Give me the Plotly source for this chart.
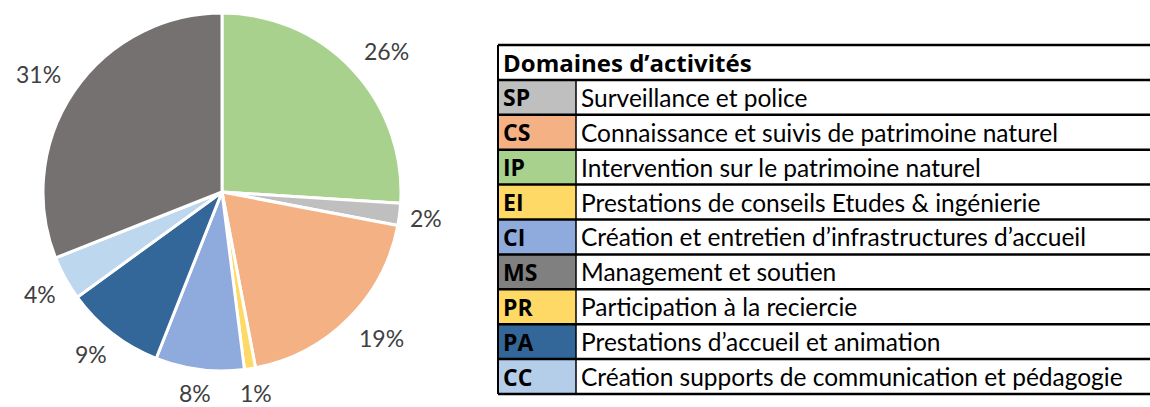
import math
import plotly.graph_objects as go

# ---- data ----
pie_codes = ["IP", "SP", "CS", "PR", "CI", "PA", "CC", "MS"]
pie_values = [26, 2, 19, 1, 8, 9, 4, 31]
pie_colors = ["#A9D18E", "#BFBFBF", "#F4B183", "#FFD966", "#8FAADC", "#336699", "#BDD7EE", "#767171"]

table_title = "Domaines d’activités"
table_codes = ["SP", "CS", "IP", "EI", "CI", "MS", "PR", "PA", "CC"]
table_labels = [
    "Surveillance et police",
    "Connaissance et suivis de patrimoine naturel",
    "Intervention sur le patrimoine naturel",
    "Prestations de conseils Etudes & ingénierie",
    "Création et entretien d’infrastructures d’accueil",
    "Management et soutien",
    "Participation à la reciercie",
    "Prestations d’accueil et animation",
    "Création supports de communication et pédagogie",
]
table_colors = ["#BFBFBF", "#F4B183", "#A9D18E", "#FFD966", "#8FAADC", "#808080", "#FFD966", "#336699", "#B4CDE8"]

W, H = 1150, 407
FONT = "Lato"
BOLD_FONT = "Open Sans"

# pie geometry in pixels
cx, cy, R = 222, 192, 179
dom_x = [(cx - R) / W, (cx + R) / W]
dom_y = [(H - cy - R) / H, (H - cy + R) / H]

fig = go.Figure()
fig.add_trace(go.Pie(
    labels=pie_codes, values=pie_values, sort=False, direction="clockwise", rotation=0,
    marker=dict(colors=pie_colors, line=dict(color="white", width=3)),
    textinfo="none", hoverinfo="label+percent", showlegend=False,
    domain=dict(x=dom_x, y=dom_y),
))

annotations = []
shapes = []
total = sum(pie_values)
cum = 0
r1, hh = 195, 8
for v in pie_values:
    mid = (cum + v / 2) / total * 2 * math.pi
    cum += v
    txt = f"{round(v / total * 100)}%"
    hw = 11 * len(txt) - 11
    ux, uy = math.sin(mid), -math.cos(mid)
    ox = hw * max(-1, min(1, 2 * ux))
    oy = hh * max(-1, min(1, 2 * uy))
    px = cx + r1 * ux + ox
    py = cy + r1 * uy + oy
    annotations.append(dict(
        x=px / W, y=(H - py) / H, xref="paper", yref="paper",
        text=txt, showarrow=False,
        xanchor="center", yanchor="middle",
        font=dict(family=FONT, size=23, color="#404040"),
    ))

# table
tx0, tdiv, tx1 = 498, 576, 1150
ty0, rowh = 45, 34.9
nrows = len(table_codes) + 1

def yp(y):
    return (H - y) / H

# code cell fills
for i, col in enumerate(table_colors):
    y_top = ty0 + rowh * (i + 1)
    shapes.append(dict(type="rect", xref="paper", yref="paper",
                       x0=tx0 / W, x1=tdiv / W, y0=yp(y_top + rowh), y1=yp(y_top),
                       fillcolor=col, line=dict(width=0), layer="below"))
# horizontal lines
for i in range(nrows + 1):
    y = ty0 + rowh * i
    shapes.append(dict(type="line", xref="paper", yref="paper",
                       x0=tx0 / W, x1=tx1 / W, y0=yp(y), y1=yp(y),
                       line=dict(color="black", width=2.5)))
# vertical lines
shapes.append(dict(type="line", xref="paper", yref="paper",
                   x0=tx0 / W, x1=tx0 / W, y0=yp(ty0), y1=yp(ty0 + rowh * nrows),
                   line=dict(color="black", width=2)))
shapes.append(dict(type="line", xref="paper", yref="paper",
                   x0=tdiv / W, x1=tdiv / W, y0=yp(ty0 + rowh), y1=yp(ty0 + rowh * nrows),
                   line=dict(color="black", width=1.5)))

annotations.append(dict(x=501 / W, y=yp(ty0 + rowh / 2), xref="paper", yref="paper",
                        text=f"<b>{table_title}</b>", showarrow=False, xanchor="left", yanchor="middle",
                        font=dict(family=BOLD_FONT, size=24, color="black")))
for i, (c, lab) in enumerate(zip(table_codes, table_labels)):
    yc = ty0 + rowh * (i + 1.5)
    annotations.append(dict(x=501 / W, y=yp(yc), xref="paper", yref="paper",
                            text=f"<b>{c}</b>", showarrow=False, xanchor="left", yanchor="middle",
                            font=dict(family=BOLD_FONT, size=23, color="black")))
    annotations.append(dict(x=579 / W, y=yp(yc), xref="paper", yref="paper",
                            text=lab, showarrow=False, xanchor="left", yanchor="middle",
                            font=dict(family=FONT, size=24.5, color="black")))

fig.update_layout(
    width=W, height=H, margin=dict(l=0, r=0, t=0, b=0),
    paper_bgcolor="white", plot_bgcolor="white",
    annotations=annotations, shapes=shapes,
)
fig.write_html("out.html", config={"displayModeBar": False},
               post_script="document.body.style.margin='0px';")
